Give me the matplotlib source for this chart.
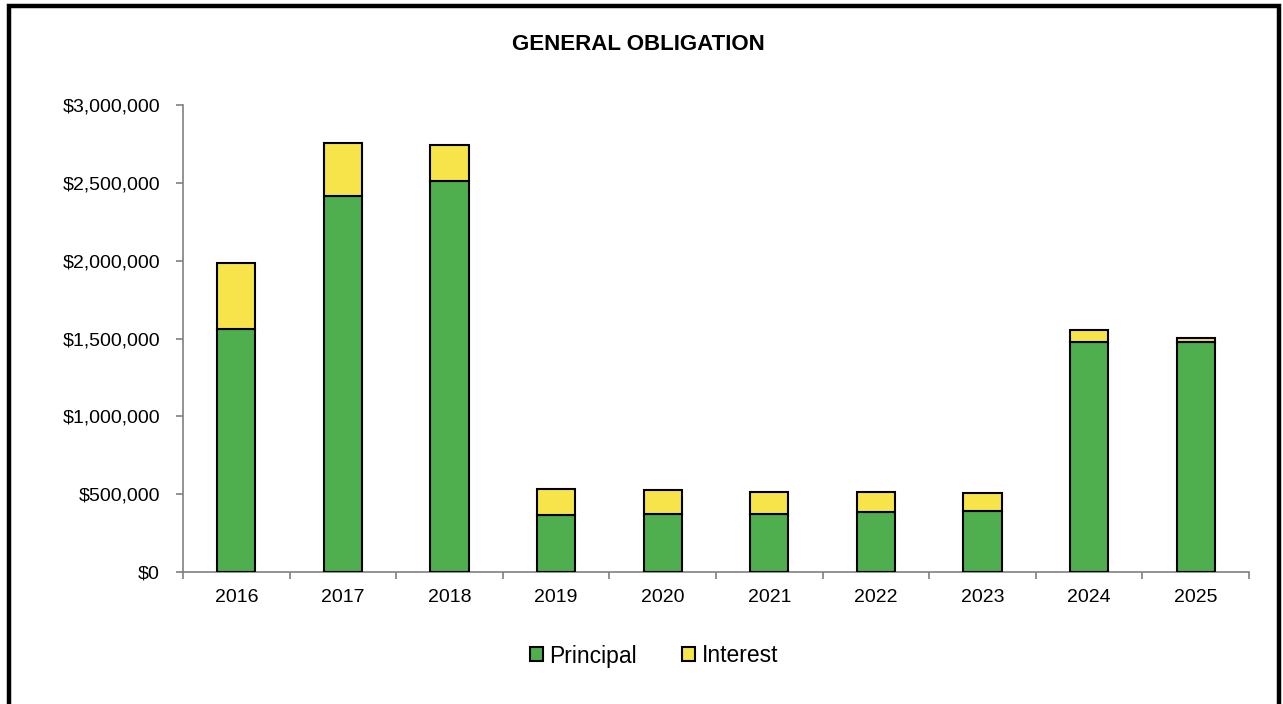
import matplotlib
matplotlib.use("Agg")
import matplotlib.pyplot as plt
from matplotlib.patches import Rectangle
from matplotlib.ticker import FuncFormatter, FixedLocator
import numpy as np

plt.rcParams['font.family'] = ['Liberation Sans', 'DejaVu Sans']

years = ['2016', '2017', '2018', '2019', '2020', '2021', '2022', '2023', '2024', '2025']
principal = [1559000, 2413000, 2512000, 366000, 372000, 372000, 385000, 394000, 1480000, 1478000]
totals = [1987000, 2754000, 2743000, 536000, 527000, 514000, 514000, 507000, 1554000, 1503000]
interest = [t - p for t, p in zip(totals, principal)]

y_ticks = [0, 500000, 1000000, 1500000, 2000000, 2500000, 3000000]

green = '#4FAF4F'
yellow = '#F6E44A'

W, H = 1283, 704
fig = plt.figure(figsize=(W / 100, H / 100), dpi=100)
fig.patch.set_facecolor('white')

ax = fig.add_axes([183 / W, 1 - 572 / H, (1249 - 183) / W, (572 - 105) / H])

x = np.arange(len(years))
bw = 0.36
ax.bar(x, principal, bw, color=green, edgecolor='black', linewidth=1.5,
       label='Principal', zorder=3)
ax.bar(x, interest, bw, bottom=principal, color=yellow, edgecolor='black',
       linewidth=1.5, label='Interest', zorder=3)

ax.set_xlim(-0.5, len(years) - 0.5)
ax.set_ylim(0, 3000000)
ax.set_yticks(y_ticks)
ax.yaxis.set_major_formatter(FuncFormatter(lambda v, p: '${:,.0f}'.format(v)))

# category boundaries carry tick marks, labels sit at bar centres
ax.xaxis.set_major_locator(FixedLocator(np.arange(-0.5, len(years), 1.0)))
ax.xaxis.set_minor_locator(FixedLocator(x))
ax.set_xticklabels([''] * (len(years) + 1))
ax.set_xticklabels(years, minor=True)
ax.tick_params(axis='x', which='major', length=5, width=1.2, color='#808080', direction='out')
ax.tick_params(axis='x', which='minor', length=0, pad=12, labelsize=14)
ax.tick_params(axis='y', length=5, width=1.2, color='#808080', direction='out',
               labelsize=14, pad=11.5)

for s in ['top', 'right']:
    ax.spines[s].set_visible(False)
for s in ['left', 'bottom']:
    ax.spines[s].set_color('#808080')
    ax.spines[s].set_linewidth(1.2)

fig.text(638 / W, 1 - 44 / H, 'GENERAL OBLIGATION', ha='center', va='center',
         fontsize=16, fontweight='bold')

leg = fig.legend(loc='center', bbox_to_anchor=(654 / W, 1 - 656 / H), ncol=2,
                 frameon=False, fontsize=16.5, handlelength=0.55, handleheight=0.55,
                 handletextpad=0.28, columnspacing=2.0)

# outer frame
fig.patches.append(Rectangle((8.5 / W, -0.02), (1278.5 - 8.5) / W, 1.02 - 5.5 / H,
                             transform=fig.transFigure, fill=False,
                             edgecolor='black', linewidth=3.2))

fig.savefig('out.png', dpi=100, facecolor='white')
